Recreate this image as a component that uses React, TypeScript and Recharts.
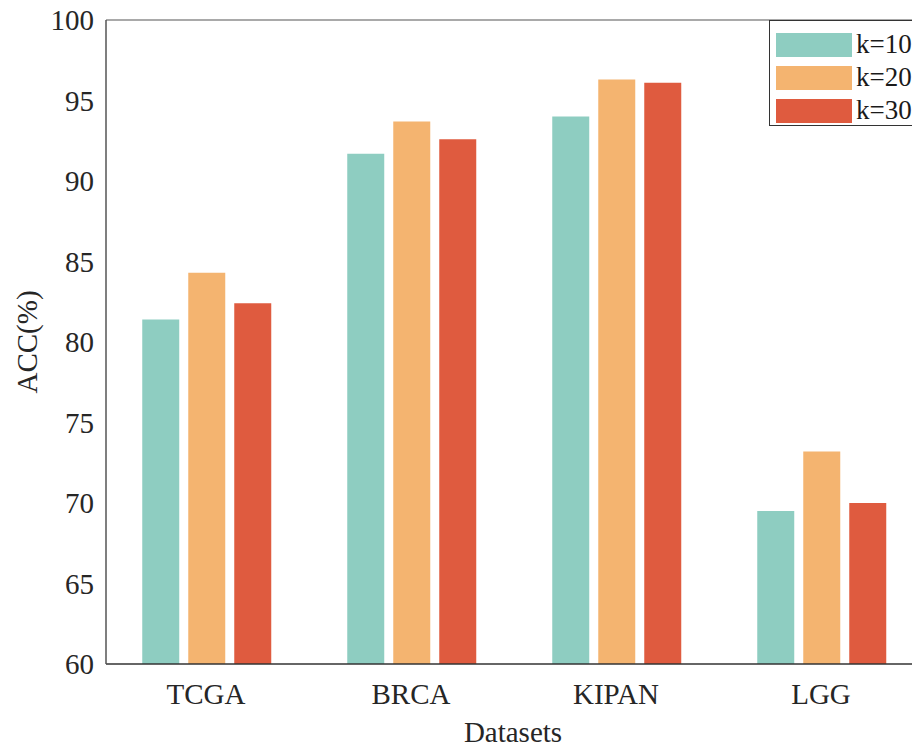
import React from 'react';
import { BarChart, Bar, XAxis, YAxis, ReferenceLine, Label } from 'recharts';

const datasets = ['TCGA', 'BRCA', 'KIPAN', 'LGG'];
const k10 = [81.4, 91.7, 94.0, 69.5];
const k20 = [84.3, 93.7, 96.3, 73.2];
const k30 = [82.4, 92.6, 96.1, 70.0];
const yTicks = [60, 65, 70, 75, 80, 85, 90, 95, 100];

const series = [
  { key: 'k10', name: 'k=10', color: '#8ECDC1' },
  { key: 'k20', name: 'k=20', color: '#F4B470' },
  { key: 'k30', name: 'k=30', color: '#DF5B3F' },
];

const data = datasets.map((name, i) => ({ name, k10: k10[i], k20: k20[i], k30: k30[i] }));

const FONT = '"Liberation Serif", "Times New Roman", serif';

// legend sits over the top-right corner of the plot, like a "northeast" box
function LegendBox() {
  return (
    <div
      style={{
        position: 'absolute',
        left: 769,
        top: 20,
        width: 150,
        height: 106,
        border: '1px solid #333',
        background: '#fff',
        boxSizing: 'border-box',
        padding: '7px 0 0 6px',
        fontFamily: FONT,
        fontSize: 27,
        color: '#1a1a1a',
      }}
    >
      {series.map((s) => (
        <div key={s.key} style={{ display: 'flex', alignItems: 'center', height: 33, whiteSpace: 'nowrap' }}>
          <span style={{ display: 'inline-block', width: 76, height: 24, background: s.color, marginRight: 4 }} />
          <span>{s.name}</span>
        </div>
      ))}
    </div>
  );
}

export default function App() {
  return (
    <div style={{ position: 'absolute', left: 0, top: 0, width: 912, height: 751, overflow: 'hidden', background: '#fff' }}>
      <BarChart
        width={940}
        height={751}
        data={data}
        margin={{ top: 20, right: 14, left: 0, bottom: 0 }}
        barGap={9}
        barCategoryGap={38.75}
      >
        <ReferenceLine y={100} stroke="#555" strokeWidth={1.2} />
        <XAxis
          dataKey="name"
          height={87}
          padding={{ left: -2.5, right: 2.5 }}
          axisLine={{ stroke: '#333', strokeWidth: 1.5 }}
          tickLine={false}
          tickSize={17}
          tickMargin={2}
          tick={{ fontFamily: FONT, fontSize: 29, fill: '#262626' }}
        >
          <Label
            content={() => (
              <text x={513} y={742} textAnchor="middle" fontFamily={FONT} fontSize={29} fill="#262626">
                Datasets
              </text>
            )}
          />
        </XAxis>
        <YAxis
          width={106}
          domain={[60, 100]}
          ticks={yTicks}
          allowDataOverflow
          axisLine={{ stroke: '#555', strokeWidth: 1.5 }}
          tickLine={false}
          tickSize={10}
          tickMargin={2}
          tick={{ fontFamily: FONT, fontSize: 29, fill: '#262626' }}
        >
          <Label
            content={() => (
              <text
                x={37}
                y={342}
                transform="rotate(-90 37 342)"
                textAnchor="middle"
                fontFamily={FONT}
                fontSize={29}
                fill="#262626"
              >
                ACC(%)
              </text>
            )}
          />
        </YAxis>
        {series.map((s) => (
          <Bar key={s.key} dataKey={s.key} name={s.name} fill={s.color} isAnimationActive={false} />
        ))}
      </BarChart>
      <LegendBox />
    </div>
  );
}
